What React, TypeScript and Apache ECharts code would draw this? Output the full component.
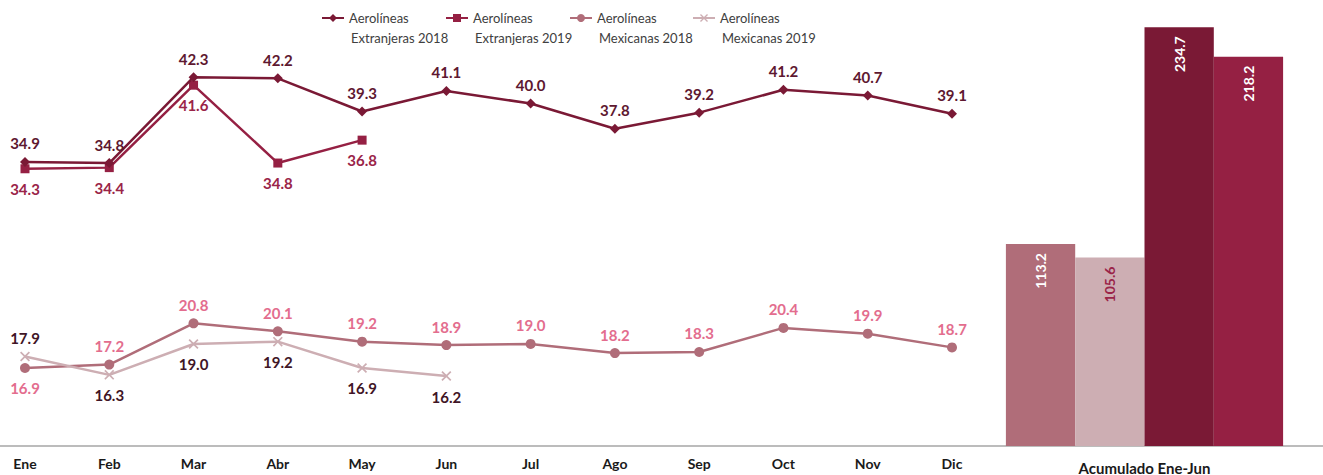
import React, { useEffect, useRef } from 'react';
import * as echarts from 'echarts';

const months = ['Ene', 'Feb', 'Mar', 'Abr', 'May', 'Jun', 'Jul', 'Ago', 'Sep', 'Oct', 'Nov', 'Dic'];
const seriesNames = [
  'Aerolíneas Extranjeras 2018',
  'Aerolíneas Extranjeras 2019',
  'Aerolíneas Mexicanas 2018',
  'Aerolíneas Mexicanas 2019',
];
const ext2018 = [34.9, 34.8, 42.3, 42.2, 39.3, 41.1, 40.0, 37.8, 39.2, 41.2, 40.7, 39.1];
const ext2019 = [34.3, 34.4, 41.6, 34.8, 36.8];
const mex2018 = [16.9, 17.2, 20.8, 20.1, 19.2, 18.9, 19.0, 18.2, 18.3, 20.4, 19.9, 18.7];
const mex2019 = [17.9, 16.3, 19.0, 19.2, 16.9, 16.2];

const accumCategory = ['Acumulado Ene-Jun'];
const accumMex2018 = [113.2];
const accumMex2019 = [105.6];
const accumExt2018 = [234.7];
const accumExt2019 = [218.2];

const FONT = 'Lato, "Noto Sans", sans-serif';
const C_EXT18 = '#7a1935';
const C_EXT19 = '#952043';
const C_MEX18 = '#b06d79';
const C_MEX19 = '#cdaeb3';
const L_EXT18 = '#5e1830';
const L_EXT19 = '#9a2448';
const L_MEX18 = '#e36d8e';
const L_MEX19 = '#3f1526';

const X_SYMBOL = 'path://M0,1.2 L1.2,0 L5,3.8 L8.8,0 L10,1.2 L6.2,5 L10,8.8 L8.8,10 L5,6.2 L1.2,10 L0,8.8 L3.8,5 Z';

function lineData(values: number[], below: (i: number) => boolean, color: string) {
  return values.map((v, i) => ({
    value: v,
    label: {
      position: below(i) ? 'bottom' : 'top',
      distance: below(i) ? 8 : 6,
      color,
    },
  }));
}

export default function App() {
  const ref = useRef<HTMLDivElement>(null);

  useEffect(() => {
    if (!ref.current) return;
    const chart = echarts.init(ref.current, null, { renderer: 'svg' });
    const labelBase = {
      show: true,
      fontFamily: FONT,
      fontWeight: 'bold',
      fontSize: 15,
      formatter: (p: any) => Number(p.value).toFixed(1),
    };
    const legendLefts = [321, 445, 569, 692];
    const option: any = {
      animation: false,
      backgroundColor: '#ffffff',
      legend: seriesNames.map((n, i) => ({
        data: [n],
        left: legendLefts[i],
        top: 10,
        padding: 0,
        itemWidth: 22,
        itemHeight: 10,
        itemGap: 4,
        selectedMode: false,
        formatter: (name: string) => name.split(' ')[0],
        textStyle: {
          fontFamily: FONT,
          fontSize: 13,
          color: '#404040',
          lineHeight: 16,
        },
      })),
      grid: [
        { left: 25, right: 371, top: 0, bottom: 28 },
        { left: 966, right: 0, top: 0, bottom: 29 },
      ],
      xAxis: [
        {
          type: 'category',
          gridIndex: 0,
          data: months,
          boundaryGap: false,
          axisLine: { show: false },
          axisTick: { show: false },
          axisLabel: {
            margin: 9,
            fontFamily: FONT,
            fontWeight: 'bold',
            fontSize: 14,
            color: '#1a1a1a',
          },
        },
        {
          type: 'category',
          gridIndex: 1,
          data: accumCategory,
          axisLine: { show: false },
          axisTick: { show: false },
          axisLabel: {
            margin: 14,
            fontFamily: FONT,
            fontWeight: 'bold',
            fontSize: 15,
            color: '#1a1a1a',
          },
        },
      ],
      yAxis: [
        { type: 'value', gridIndex: 0, min: 10, max: 49.04, show: false, splitLine: { show: false } },
        { type: 'value', gridIndex: 1, min: 0, max: 250, show: false, splitLine: { show: false } },
      ],
      graphic: [
        {
          type: 'line',
          shape: { x1: 0, y1: 446, x2: 1323, y2: 446 },
          style: { stroke: '#a6a6a6', lineWidth: 1.5 },
          z: 1,
        },
        ...seriesNames.map((n, i) => ({
          type: 'text',
          x: legendLefts[i] + 30,
          y: 38,
          style: {
            text: n.split(' ').slice(1).join(' '),
            fontFamily: FONT,
            fontSize: 13,
            fill: '#404040',
            verticalAlign: 'middle',
          },
        })),
      ],
      series: [
        {
          name: seriesNames[0],
          type: 'line',
          xAxisIndex: 0,
          yAxisIndex: 0,
          data: lineData(ext2018, () => false, L_EXT18),
          symbol: 'diamond',
          symbolSize: 10,
          itemStyle: { color: C_EXT18 },
          lineStyle: { color: C_EXT18, width: 2.5 },
          label: { ...labelBase },
          z: 4,
        },
        {
          name: seriesNames[1],
          type: 'line',
          xAxisIndex: 0,
          yAxisIndex: 0,
          data: lineData(ext2019, () => true, L_EXT19),
          symbol: 'rect',
          symbolSize: 9,
          itemStyle: { color: C_EXT19 },
          lineStyle: { color: C_EXT19, width: 2.5 },
          label: { ...labelBase },
          z: 3,
        },
        {
          name: seriesNames[2],
          type: 'line',
          xAxisIndex: 0,
          yAxisIndex: 0,
          data: lineData(mex2018, (i) => i === 0, L_MEX18),
          symbol: 'circle',
          symbolSize: 10,
          itemStyle: { color: C_MEX18 },
          lineStyle: { color: C_MEX18, width: 2.5 },
          label: { ...labelBase },
          z: 3,
        },
        {
          name: seriesNames[3],
          type: 'line',
          xAxisIndex: 0,
          yAxisIndex: 0,
          data: lineData(mex2019, (i) => i !== 0, L_MEX19),
          symbol: X_SYMBOL,
          symbolSize: 10,
          itemStyle: { color: C_MEX19 },
          lineStyle: { color: C_MEX19, width: 2.5 },
          label: { ...labelBase },
          z: 3,
        },
        ...[
          { name: seriesNames[2], data: accumMex2018, color: C_MEX18, lc: '#ffffff' },
          { name: seriesNames[3], data: accumMex2019, color: C_MEX19, lc: '#9a2448' },
          { name: seriesNames[0], data: accumExt2018, color: C_EXT18, lc: '#ffffff' },
          { name: seriesNames[1], data: accumExt2019, color: C_EXT19, lc: '#ffffff' },
        ].map((b) => ({
          name: b.name,
          type: 'bar',
          xAxisIndex: 1,
          yAxisIndex: 1,
          data: b.data,
          barWidth: 69.3,
          barGap: '0%',
          itemStyle: { color: b.color },
          label: {
            show: true,
            position: 'insideTop',
            rotate: 90,
            align: 'right',
            verticalAlign: 'middle',
            distance: 9,
            fontFamily: FONT,
            fontWeight: 'bold',
            fontSize: 14,
            color: b.lc,
            formatter: (p: any) => Number(p.value).toFixed(1),
          },
          z: 2,
        })),
      ],
    };
    chart.setOption(option);
    return () => chart.dispose();
  }, []);

  return (
    <div
      ref={ref}
      style={{ position: 'fixed', left: 0, top: 0, width: 1323, height: 475, background: '#fff' }}
    />
  );
}
